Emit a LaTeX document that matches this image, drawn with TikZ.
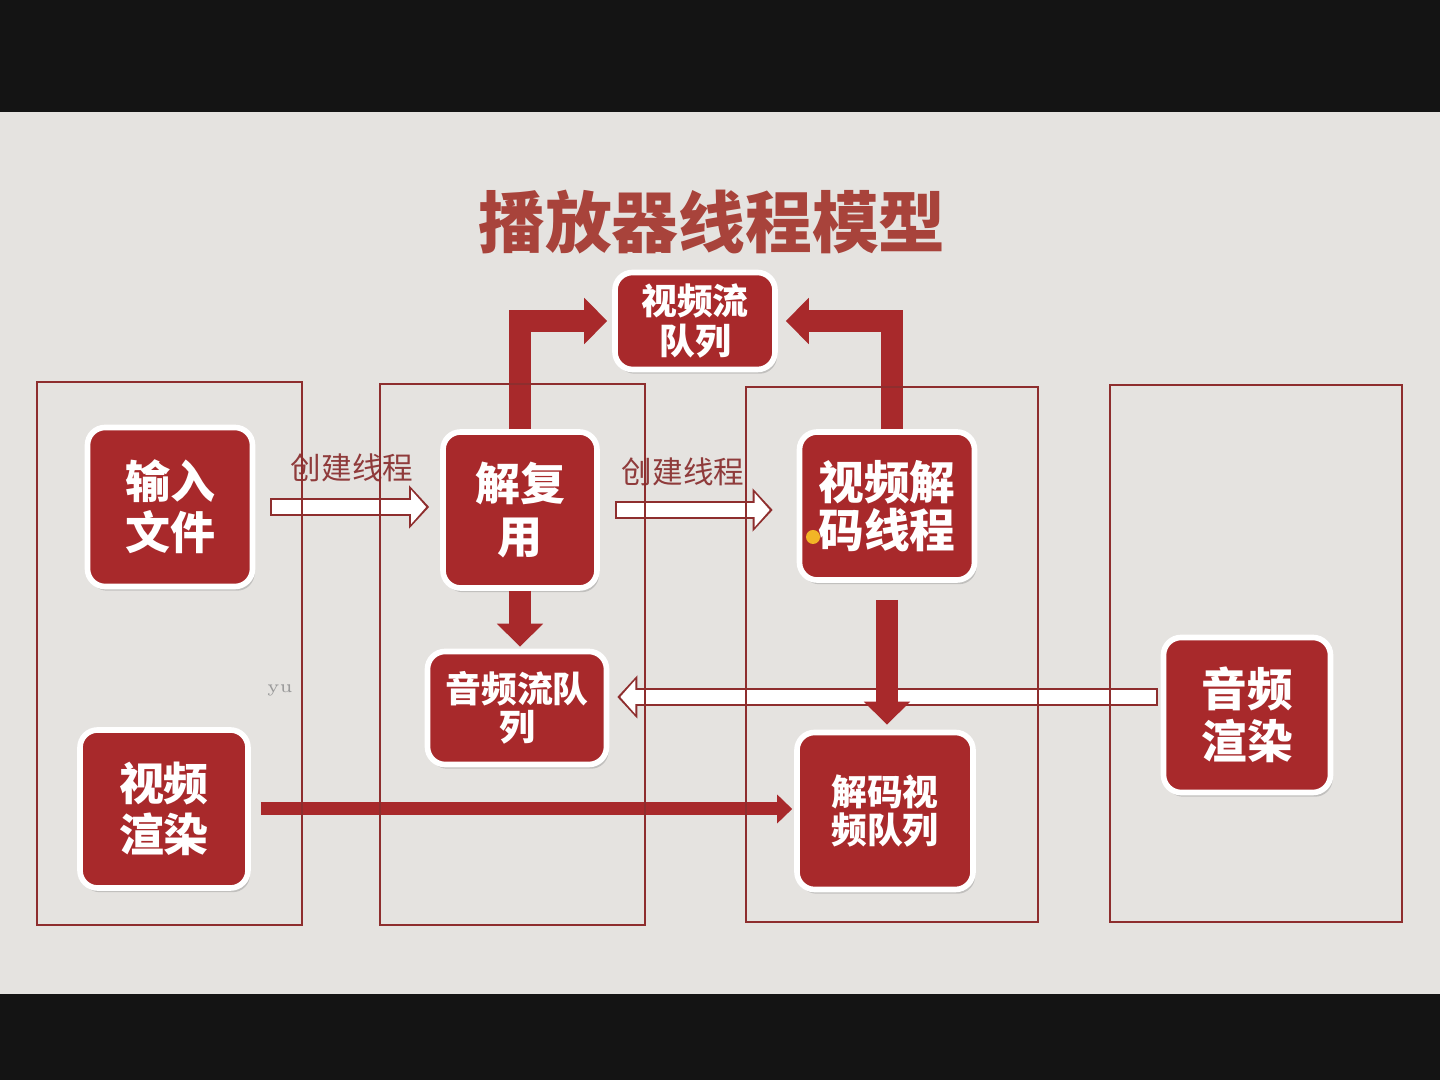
\documentclass[tikz,border=0pt]{standalone}
\usepackage{fontspec}
\newfontfamily\cjk{Noto Sans CJK SC}
\usepackage{tikz}
\usetikzlibrary{calc,arrows.meta,shadows}
\definecolor{photo}{HTML}{141414}
\definecolor{slide}{HTML}{E5E3E0}
\definecolor{boxred}{HTML}{A8292B}
\definecolor{linered}{HTML}{8E2E2E}
\definecolor{titlered}{HTML}{A8433B}
\definecolor{labred}{HTML}{8F3B3B}
\definecolor{dotorange}{HTML}{F2B526}
\definecolor{faint}{HTML}{9A9A9A}
\tikzset{
  lane/.style={draw=linered, line width=0.7pt},
  redbox/.style={fill=boxred, draw=white, line width=1.6pt, rounded corners=5pt, text=white,
    font=\cjk\bfseries\fontsize{12.8}{14.6}\selectfont, align=center, inner sep=0pt,
    drop shadow={opacity=0.35, shadow xshift=0.6pt, shadow yshift=-1.2pt}},
  redboxs/.style={redbox, font=\cjk\bfseries\fontsize{10.2}{11}\selectfont},
  fat/.style={draw=boxred, line width=0.22cm, -{Triangle[width=0.45cm, length=0.23cm]}},
  slim/.style={draw=boxred, line width=0.13cm, -{Triangle[width=0.28cm, length=0.15cm]}},
  hollowout/.style={draw=linered, line width=0.18cm, -{Triangle[width=0.42cm, length=0.2cm]}},
  hollowin/.style={draw=white, line width=0.14cm, -{Triangle[width=0.33cm, length=0.15cm]}},
  lab/.style={text=labred, font=\cjk\fontsize{8.7}{10}\selectfont},
  titletxt/.style={text=titlered, font=\cjk\bfseries\fontsize{19}{22}\selectfont},
}
\begin{document}
\begin{tikzpicture}
  \useasboundingbox (0,0) rectangle (14.4,10.8);
  \fill[photo] (0,0) rectangle (14.4,10.8);
  \fill[slide] (0,0.86) rectangle (14.4,9.68);
  \node[titletxt] (title) at (7.12,8.58) {播放器线程模型};

  % boxes
  \node[redbox, minimum width=1.65cm, minimum height=1.59cm] (in) at (1.70,5.73) {输入\\文件};
  \node[redbox, minimum width=1.68cm, minimum height=1.58cm] (vr) at (1.64,2.71) {视频\\渲染};
  \node[redbox, minimum width=1.54cm, minimum height=1.56cm, font=\cjk\bfseries\fontsize{12.8}{15}\selectfont] (demux) at (5.20,5.70) {解复\\用};
  \node[redboxs, minimum width=1.60cm, minimum height=0.97cm, font=\cjk\bfseries\fontsize{10.2}{11.4}\selectfont] (vq) at (6.95,7.59) {视频流\\队列};
  \node[redboxs, minimum width=1.79cm, minimum height=1.13cm] (aq) at (5.17,3.72) {音频流队\\列};
  \node[redbox, minimum width=1.75cm, minimum height=1.48cm, font=\cjk\bfseries\fontsize{13}{13.7}\selectfont] (vdec) at (8.87,5.74) {视频解\\码线程};
  \node[redboxs, minimum width=1.76cm, minimum height=1.57cm] (dvq) at (8.85,2.69) {解码视\\频队列};
  \node[redbox, minimum width=1.67cm, minimum height=1.55cm, font=\cjk\bfseries\fontsize{13}{14.8}\selectfont] (ar) at (12.47,3.65) {音频\\渲染};

  % hollow arrows
  \draw[hollowout, shorten <=0.15cm, shorten >=0.11cm] (in.east) -- (in.east -| demux.west);
  \draw[hollowin, shorten <=0.17cm, shorten >=0.14cm] (in.east) -- (in.east -| demux.west);
  \node[lab] (l1) at (3.52,6.12) {创建线程};
  \draw[hollowout, shorten <=0.15cm, shorten >=0.24cm] (demux.east) -- (demux.east -| vdec.west);
  \draw[hollowin, shorten <=0.17cm, shorten >=0.27cm] (demux.east) -- (demux.east -| vdec.west);
  \node[lab] (l2) at (6.83,6.08) {创建线程};
  \coordinate (ah) at ($(ar.west)+(-0.03,0.18)$);
  \draw[hollowout, shorten >=0.08cm] (ah) -- (ah -| aq.east);
  \draw[hollowin, shorten <=0.02cm, shorten >=0.11cm] (ah) -- (ah -| aq.east);

  % solid arrows
  \draw[fat, shorten >=0.05cm] (demux.north) |- (vq.west);
  \draw[fat, shorten >=0.08cm] ($(vdec.north)+(0.05,0)$) |- (vq.east);
  \draw[fat, shorten >=0.02cm] (demux.south) -- (demux.south |- aq.north);
  \draw[fat, shorten <=0.17cm, shorten >=0.05cm] (vdec.south) -- (vdec.south |- dvq.north);
  \draw[slim, shorten <=0.1cm, shorten >=0.02cm] (vr.east) -- (vr.east -| dvq.west);

  % lanes
  \draw[lane] (0.37,1.55) rectangle (3.02,6.98);
  \draw[lane] (3.80,1.55) rectangle (6.45,6.96);
  \draw[lane] (7.46,1.58) rectangle (10.38,6.93);
  \draw[lane] (11.10,1.58) rectangle (14.02,6.95);

  \node[text=faint, font=\tiny] (yu) at (2.80,3.90) {yu};
  \node[circle, fill=dotorange, inner sep=0pt, minimum size=0.14cm] (dot) at (8.13,5.43) {};
\end{tikzpicture}
\end{document}
